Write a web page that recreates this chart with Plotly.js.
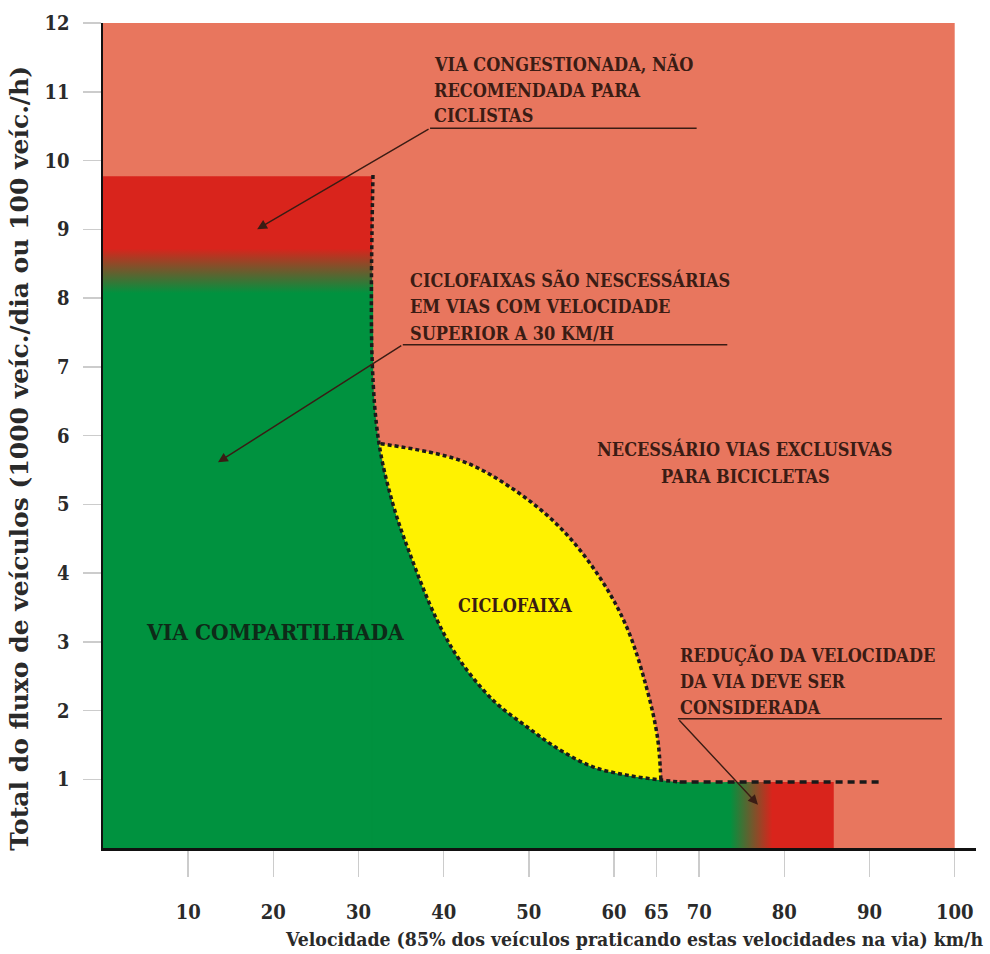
<!DOCTYPE html>
<html>
<head>
<meta charset="utf-8">
<script src="https://cdn.plot.ly/plotly-3.0.1.min.js"></script>
<style>html,body{margin:0;padding:0;background:#fff;}#chart{width:990px;height:954px;}</style>
</head>
<body>
<div id="chart"></div>
<script>
// ---- data ----
const xTicks = [10, 20, 30, 40, 50, 60, 65, 70, 80, 90, 100];
const yTicks = [1, 2, 3, 4, 5, 6, 7, 8, 9, 10, 11, 12];

// whole area: "necessário vias exclusivas"
const bgX = [0, 0, 100, 100];
const bgY = [0, 12, 12, 0];

// shared-road (green) area: left block + curved part
const greenBlockX = [0, 0, 31.6, 31.6];
const greenBlockY = [0, 8.2, 8.2, 0];
const greenCurveX = [31.6, 31.6, 32.4, 34.0, 36.0, 39.2, 41.9, 45.8, 49.8, 53.6, 57.5, 61.5, 65.4, 67.7, 73.6];
const greenCurveY = [8.2, 7.1, 5.89, 5.02, 4.29, 3.32, 2.73, 2.15, 1.76, 1.43, 1.18, 1.06, 0.99, 0.96, 0.96];

// congested column (top left, red -> green)
const congX = [0, 0, 31.6, 31.6];
const congY = [8.0, 9.77, 9.77, 8.0];

// speed reduction bar (bottom right, green -> red)
const reduX = [73.2, 73.2, 85.8, 85.8];
const reduY = [0, 0.96, 0.96, 0];

// ciclofaixa lens
const lowerCurveX = [32.4, 34.0, 36.0, 39.2, 41.9, 45.8, 49.8, 53.6, 57.5, 61.5, 65.4];
const lowerCurveY = [5.89, 5.02, 4.29, 3.32, 2.73, 2.15, 1.76, 1.43, 1.18, 1.06, 0.99];
const upperCurveX = [32.6, 41.9, 47.8, 53.6, 58.3, 61.5, 63.8, 65.1, 65.5];
const upperCurveY = [5.88, 5.64, 5.25, 4.67, 3.94, 3.21, 2.34, 1.61, 0.99];

// dotted boundary
const boundX = [31.7, 31.6, 32.4, 34.0, 36.0, 39.2, 41.9, 45.8, 49.8, 53.6, 57.5, 61.5, 65.4, 67.7];
const boundY = [9.79, 7.1, 5.89, 5.02, 4.29, 3.32, 2.73, 2.15, 1.76, 1.43, 1.18, 1.06, 0.99, 0.96];
const extX = [67.7, 91.2];
const extY = [0.96, 0.96];

// ---- styles ----
const SALMON = '#E8765E';
const RED = '#D9241C';
const GREEN = '#00923F';
const YELLOW = '#FFF200';
const INK = '#3A1C14';
const FONT = '"DejaVu Serif Condensed", "DejaVu Serif", "Liberation Serif", serif';

const base = {type: 'scatter', mode: 'lines', hoverinfo: 'skip', showlegend: false};
const traces = [
  Object.assign({}, base, {x: bgX, y: bgY, fill: 'toself', fillcolor: SALMON, line: {width: 0}}),
  Object.assign({}, base, {x: greenBlockX, y: greenBlockY, fill: 'toself', fillcolor: GREEN, line: {width: 2, color: GREEN}}),
  Object.assign({}, base, {x: greenCurveX, y: greenCurveY, fill: 'tozeroy', fillcolor: GREEN,
    line: {width: 0, shape: 'spline', smoothing: 1}}),
  Object.assign({}, base, {x: congX, y: congY, fill: 'toself', line: {width: 0},
    fillgradient: {type: 'vertical', start: 8.07, stop: 8.72, colorscale: [[0, GREEN], [1, RED]]}}),
  Object.assign({}, base, {x: reduX, y: reduY, fill: 'toself', line: {width: 0},
    fillgradient: {type: 'horizontal', start: 73.6, stop: 78.6, colorscale: [[0, GREEN], [1, RED]]}}),
  Object.assign({}, base, {x: lowerCurveX, y: lowerCurveY, line: {width: 0, shape: 'spline', smoothing: 1}}),
  Object.assign({}, base, {x: upperCurveX, y: upperCurveY, fill: 'tonexty', fillcolor: YELLOW,
    line: {width: 0, shape: 'spline', smoothing: 1}}),
  Object.assign({}, base, {x: boundX, y: boundY, line: {color: '#1a1a1a', width: 3.5, dash: '4px,3px', shape: 'spline', smoothing: 1}}),
  Object.assign({}, base, {x: upperCurveX, y: upperCurveY, line: {color: '#1a1a1a', width: 3.5, dash: '4px,3px', shape: 'spline', smoothing: 1}}),
  Object.assign({}, base, {x: extX, y: extY, line: {color: '#1a1a1a', width: 3.5, dash: '7px,5px'}})
];

function txt(x, y, t, opts) {
  return Object.assign({x: x, y: y, xref: 'x', yref: 'y', text: '<b>' + t + '</b>', showarrow: false,
    xanchor: 'left', yanchor: 'middle',
    font: {family: FONT, size: 18, color: INK, weight: 'bold'}}, opts || {});
}
function arrow(x0, y0, x1, y1) {
  return {x: x1, y: y1, ax: x0, ay: y0, xref: 'x', yref: 'y', axref: 'x', ayref: 'y',
    text: '', showarrow: true, arrowhead: 2, arrowsize: 1.4, arrowwidth: 1.4, arrowcolor: INK, standoff: 0};
}
function uline(x0, x1, y) {
  return {type: 'line', xref: 'x', yref: 'y', x0: x0, x1: x1, y0: y, y1: y, line: {color: INK, width: 1.6}};
}

const annotations = [
  txt(38.6, 11.40, 'VIA CONGESTIONADA, NÃO'),
  txt(38.6, 11.02, 'RECOMENDADA PARA'),
  txt(38.6, 10.65, 'CICLISTAS'),
  arrow(38.4, 10.47, 18.1, 9.0),

  txt(35.8, 8.26, 'CICLOFAIXAS SÃO NESCESSÁRIAS'),
  txt(35.8, 7.87, 'EM VIAS COM VELOCIDADE'),
  txt(35.8, 7.49, 'SUPERIOR A 30 KM/H'),
  arrow(35.2, 7.32, 13.5, 5.61),

  txt(75.4, 5.80, 'NECESSÁRIO VIAS EXCLUSIVAS', {xanchor: 'center'}),
  txt(75.4, 5.41, 'PARA BICICLETAS', {xanchor: 'center'}),

  txt(48.4, 3.53, 'CICLOFAIXA', {xanchor: 'center', font: {family: FONT, size: 18, color: INK, weight: 'bold'}}),
  txt(20.2, 3.14, 'VIA COMPARTILHADA', {xanchor: 'center', font: {family: FONT, size: 22.5, color: '#0E2A18', weight: 'bold'}}),

  txt(67.5, 2.81, 'REDUÇÃO DA VELOCIDADE'),
  txt(67.5, 2.42, 'DA VIA DEVE SER'),
  txt(67.5, 2.05, 'CONSIDERADA'),
  arrow(67.5, 1.88, 76.9, 0.63),

  {xref: 'paper', yref: 'paper', x: 1.01, y: -0.1115, xanchor: 'right', yanchor: 'middle', showarrow: false,
    text: '<b>Velocidade (85% dos veículos praticando estas velocidades na via) km/h</b>',
    font: {family: FONT, size: 19.3, color: '#2a2a2a', weight: 'bold'}},
  {xref: 'paper', yref: 'paper', x: -0.095, y: 0.472, xanchor: 'center', yanchor: 'middle', showarrow: false, textangle: -90,
    text: '<b>Total do fluxo de veículos (1000 veíc./dia ou 100 veíc./h)</b>',
    font: {family: '"DejaVu Serif", "Liberation Serif", serif', size: 25, color: '#2a2a2a', weight: 'bold'}}
];

const shapes = [
  uline(38.4, 69.7, 10.47),
  uline(35.2, 73.3, 7.32),
  uline(67.5, 98.5, 1.88)
];

const layout = {
  width: 990, height: 954,
  margin: {l: 103, r: 14, t: 23, b: 106, pad: 0},
  paper_bgcolor: '#ffffff', plot_bgcolor: '#ffffff',
  xaxis: {range: [0, 102.5], showgrid: false, zeroline: false, showline: true, linecolor: '#111', linewidth: 2.5,
    tickmode: 'array', tickvals: xTicks, ticktext: xTicks.map(String), ticks: 'outside', ticklen: 26, tickwidth: 1.5,
    tickcolor: '#cccccc', ticklabelstandoff: 18,
    tickfont: {family: FONT, size: 20, color: '#2a2a2a', weight: 'bold'}, fixedrange: true},
  yaxis: {range: [0, 12], showgrid: false, zeroline: false, showline: true, linecolor: '#111', linewidth: 2.5,
    tickmode: 'array', tickvals: yTicks, ticktext: yTicks.map(String), ticks: 'outside', ticklen: 18, tickwidth: 1.5,
    tickcolor: '#cccccc', ticklabelstandoff: 9,
    tickfont: {family: FONT, size: 20, color: '#2a2a2a', weight: 'bold'}, fixedrange: true},
  annotations: annotations,
  shapes: shapes,
  showlegend: false
};

Plotly.newPlot('chart', traces, layout, {staticPlot: true, displayModeBar: false});
</script>
</body>
</html>
